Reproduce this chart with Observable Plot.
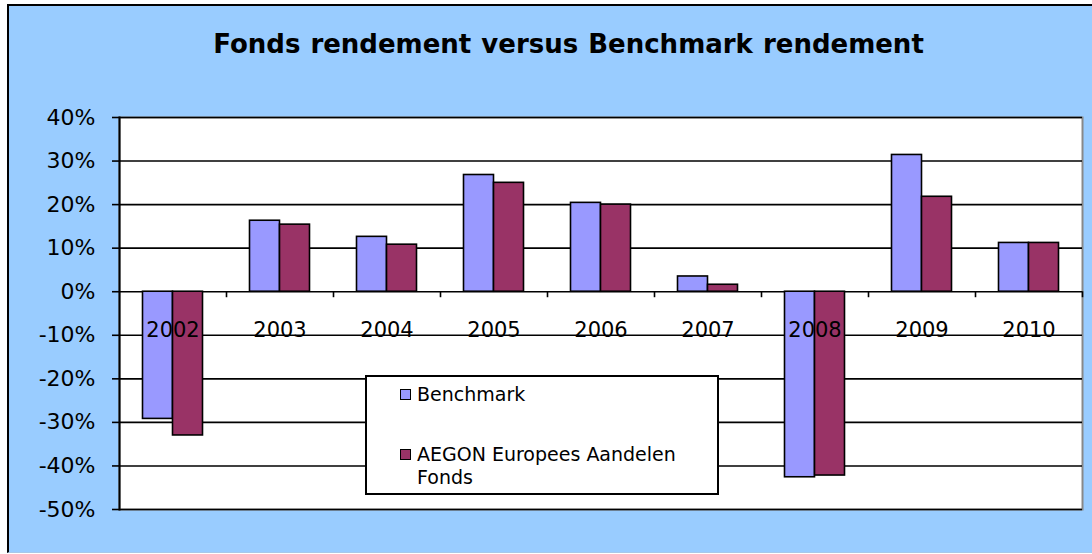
<!DOCTYPE html>
<html>
<head>
<meta charset="utf-8">
<script src="https://cdn.jsdelivr.net/npm/d3@7"></script>
<script src="https://cdn.jsdelivr.net/npm/@observablehq/plot@0.6"></script>
<style>
  html, body { margin: 0; padding: 0; background: #ffffff; }
  #wrap { position: relative; width: 1092px; height: 554px; overflow: hidden; font-family: "DejaVu Sans", Verdana, sans-serif; }
  #bg { position: absolute; left: 7px; top: 4px; width: 1100px; height: 549px; background: #99CCFF; border-left: 2px solid #000; border-top: 2px solid #000; border-bottom: 1px solid #a8c8e8; box-sizing: border-box; }
  #title { position: absolute; left: 0; top: 29px; width: 1137px; text-align: center; font-weight: bold; font-size: 26px; word-spacing: 1px; color: #000; }
  #chart { position: absolute; left: 0; top: 0; }
  #legend { position: absolute; left: 365px; top: 375px; width: 354px; height: 120px; box-sizing: border-box; background: #fff; border: 2px solid #000; font-size: 19px; color: #000; }
  .item { position: absolute; left: 34px; line-height: 23px; }
  .sw { position: absolute; left: -1px; top: 6px; width: 11px; height: 11px; border: 1.5px solid #000; box-sizing: border-box; }
  .txt { position: absolute; left: 16px; top: 0; white-space: nowrap; }
</style>
</head>
<body>
<div id="wrap">
  <div id="bg"></div>
  <div id="chart"></div>
  <div id="title"></div>
  <div id="legend"></div>
</div>
<script>
const title = "Fonds rendement versus Benchmark rendement";
const years = ["2002","2003","2004","2005","2006","2007","2008","2009","2010"];
const seriesNames = ["Benchmark", "AEGON Europees Aandelen Fonds"];
const benchmark = [-0.292, 0.163, 0.126, 0.268, 0.204, 0.035, -0.426, 0.314, 0.112];
const fonds     = [-0.330, 0.154, 0.108, 0.250, 0.200, 0.016, -0.422, 0.218, 0.112];
const yTicks = [-0.5,-0.4,-0.3,-0.2,-0.1,0,0.1,0.2,0.3,0.4];
const colors = ["#9999FF", "#993366"];

document.getElementById("title").textContent = title;

const rowsB = years.map((y, i) => ({year: y, value: benchmark[i], series: seriesNames[0]}));
const rowsF = years.map((y, i) => ({year: y, value: fonds[i], series: seriesNames[1]}));

const pct = d => Math.round(d * 100) + "%";

const plot = Plot.plot({
  width: 1092,
  height: 554,
  marginLeft: 119,
  marginRight: 10,
  marginTop: 117,
  marginBottom: 45,
  style: {background: "transparent", fontFamily: "DejaVu Sans, Verdana, sans-serif", color: "#000", overflow: "visible"},
  x: {domain: years, padding: 0, axis: null},
  y: {domain: [-0.5, 0.4], axis: null},
  marks: [
    Plot.frame({fill: "white", stroke: "#888888", strokeWidth: 2}),
    Plot.gridY(yTicks, {stroke: "#000", strokeOpacity: 1, strokeWidth: 1.6}),
    Plot.ruleX(years.slice(1), {x: d => d, y1: 0, y2: 0, dx: -53.5, insetBottom: -6, stroke: "#000", strokeWidth: 1.6}),
    Plot.ruleX(years.slice(-1), {x: d => d, y1: 0, y2: 0, dx: 53.5, insetBottom: -6, stroke: "#000", strokeWidth: 1.6}),
    Plot.barY(rowsB, {x: "year", y: "value", fill: colors[0], stroke: "#000", strokeWidth: 1.6, insetLeft: 23.5, insetRight: 53.5}),
    Plot.barY(rowsF, {x: "year", y: "value", fill: colors[1], stroke: "#000", strokeWidth: 1.6, insetLeft: 53.5, insetRight: 23.5}),
    Plot.frame({anchor: "left", stroke: "#000", strokeWidth: 2}),
    Plot.axisY(yTicks, {tickFormat: pct, label: null, tickSize: 7, tickPadding: 17, fontSize: 22, stroke: "#000", strokeWidth: 1.6}),
    Plot.text(years, {x: d => d, y: 0, text: d => d, dy: 39, fontSize: 21, fill: "#000"})
  ]
});
document.getElementById("chart").appendChild(plot);

const legend = document.getElementById("legend");
const tops = [6, 66];
seriesNames.forEach((name, i) => {
  const item = document.createElement("div");
  item.className = "item";
  item.style.top = tops[i] + "px";
  const sw = document.createElement("div");
  sw.className = "sw";
  sw.style.background = colors[i];
  const t = document.createElement("div");
  t.className = "txt";
  t.innerHTML = i === 1 ? "AEGON Europees Aandelen<br>Fonds" : name;
  item.appendChild(sw);
  item.appendChild(t);
  legend.appendChild(item);
});
</script>
</body>
</html>
